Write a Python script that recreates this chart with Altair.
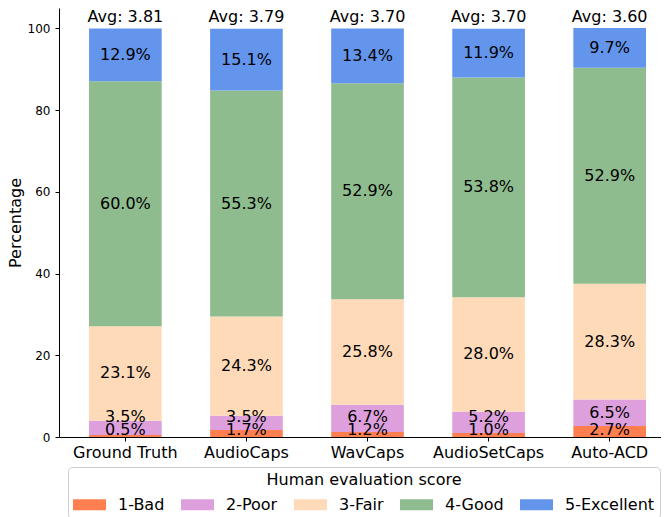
import altair as alt
import pandas as pd

categories = ["Ground Truth", "AudioCaps", "WavCaps", "AudioSetCaps", "Auto-ACD"]
scores = ["1-Bad", "2-Poor", "3-Fair", "4-Good", "5-Excellent"]
bad = [0.5, 1.7, 1.2, 1.0, 2.7]
poor = [3.5, 3.5, 6.7, 5.2, 6.5]
fair = [23.1, 24.3, 25.8, 28.0, 28.3]
good = [60.0, 55.3, 52.9, 53.8, 52.9]
excellent = [12.9, 15.1, 13.4, 11.9, 9.7]
averages = [3.81, 3.79, 3.70, 3.70, 3.60]
colors = ["#FF7F50", "#DDA0DD", "#FFDAB9", "#8FBC8F", "#6495ED"]

FONT = "DejaVu Sans"

rows = []
for i, c in enumerate(categories):
    vals = [bad[i], poor[i], fair[i], good[i], excellent[i]]
    start = 0.0
    label_ys = []
    for j, v in enumerate(vals):
        center = start + v / 2
        if j == 0:
            ly = max(center, 1.6)
        elif j == 1:
            ly = max(center, label_ys[0] + 3.4)
        else:
            ly = center
        label_ys.append(ly)
        rows.append(dict(category=c, score=scores[j], order=j, value=v,
                         y0=start, y1=start + v, label=f"{v:.1f}%", label_y=ly))
        start += v
df = pd.DataFrame(rows)
avg_df = pd.DataFrame({"category": categories,
                       "avg": [f"Avg: {a:.2f}" for a in averages],
                       "top": [100] * len(categories)})

x_enc = alt.X("category:N", sort=categories,
              scale=alt.Scale(paddingInner=0.4, paddingOuter=0.186, align=0.667),
              axis=alt.Axis(title=None, labelAngle=0, labelFontSize=16, labelPadding=3,
                            tickSize=4, labelFont=FONT))
y_scale = alt.Scale(domain=[0, 105], nice=False, zero=True)

bars = alt.Chart(df).mark_bar().encode(
    x=x_enc,
    y=alt.Y("y0:Q", scale=y_scale,
            axis=alt.Axis(values=[0, 20, 40, 60, 80, 100], title="Percentage",
                          labelFontSize=12, titleFontSize=16, titleFontWeight="normal",
                          tickSize=4, labelPadding=5, titlePadding=4, grid=False,
                          labelFont=FONT, titleFont=FONT)),
    y2="y1:Q",
    color=alt.Color("score:N", scale=alt.Scale(domain=scores, range=colors),
                    legend=alt.Legend(orient="none", legendX=9, legendY=459,
                                      direction="horizontal",
                                      title="Human evaluation score",
                                      titleAnchor="middle", titleOrient="top",
                                      titleFontSize=16, titleFontWeight="normal",
                                      titleFont=FONT, titleLimit=500, titlePadding=0,
                                      labelFontSize=16, labelFont=FONT, labelColor="black",
                                      titleColor="black",
                                      symbolType="M-1,-0.333H1V0.333H-1Z",
                                      symbolSize=1089, symbolStrokeWidth=0,
                                      symbolOpacity=1,
                                      labelOffset=12, columnPadding=16, padding=5,
                                      strokeColor="#cccccc", cornerRadius=4,
                                      fillColor="white")),
)

labels = alt.Chart(df).mark_text(fontSize=16, font=FONT, color="black",
                                 baseline="middle").encode(
    x=alt.X("category:N", sort=categories),
    y=alt.Y("label_y:Q"),
    text="label:N",
)

avg_text = alt.Chart(avg_df).mark_text(fontSize=16, font=FONT, color="black",
                                       baseline="alphabetic", dy=-6).encode(
    x=alt.X("category:N", sort=categories),
    y=alt.Y("top:Q"),
    text="avg:N",
)

chart = alt.layer(bars, labels, avg_text).properties(
    width=602, height=429,
    autosize=alt.AutoSizeParams(type="none"),
    padding={"left": 51, "top": 0, "right": 0, "bottom": 80},
).configure_view(stroke=None).configure_axis(
    domainColor="black", tickColor="black", labelColor="black", titleColor="black",
    domainWidth=1, tickWidth=1,
)

chart.save("out.html", embed_options={"renderer": "svg", "actions": False})
